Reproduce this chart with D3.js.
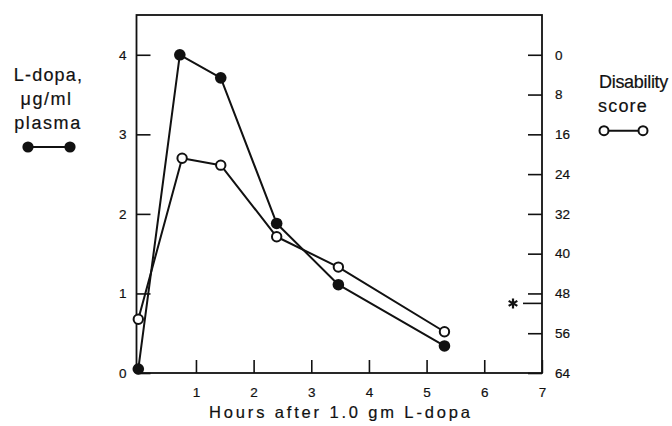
<!DOCTYPE html>
<html><head><meta charset="utf-8">
<script src="https://cdn.jsdelivr.net/npm/d3@7"></script>
<style>
body{margin:0;background:#fff}
svg{display:block}
text{font-family:"Liberation Sans",Arial,Helvetica,sans-serif;fill:#111;stroke:#111;stroke-width:0.2px}
</style>
</head><body>
<svg id="c" width="672" height="426"></svg>
<script>
// ---- data ----
const hoursDopa  = [0, 0.72, 1.43, 2.40, 3.47, 5.31];
const ldopa      = [0.05, 4.0, 3.71, 1.88, 1.11, 0.34];
const hoursScore = [0, 0.76, 1.43, 2.40, 3.47, 5.31];
const disability = [53.2, 20.8, 22.2, 36.6, 42.7, 55.7];
const xTicks     = [1, 2, 3, 4, 5, 6, 7];
const leftTicks  = [0, 1, 2, 3, 4];
const rightTicks = [0, 8, 16, 24, 32, 40, 48, 56, 64];
const starScore  = 50;
const leftLegend  = ["L-dopa,", "\u03bcg/ml", "plasma"];
const rightLegend = ["Disability", "score"];
const xTitle = "Hours after 1.0 gm L-dopa";

// ---- layout ----
const svg = d3.select("#c");
const frame = {left: 136.5, right: 542, top: 15, bottom: 373};
const x  = d3.scaleLinear().domain([0, 7]).range([138.3, 541.9]);
const yL = d3.scaleLinear().domain([0, 4.5]).range([373, 15]);
const yR = d3.scaleLinear().domain([0, 64]).range([yL(4), 373]);
const ink = "#111";

// frame
svg.append("rect")
  .attr("x", frame.left).attr("y", frame.top)
  .attr("width", frame.right - frame.left).attr("height", frame.bottom - frame.top)
  .attr("fill", "none").attr("stroke", ink).attr("stroke-width", 1.8);

function styleAxis(g, size) {
  g.select(".domain").remove();
  g.attr("font-family", null).attr("font-size", null);
  g.selectAll(".tick line").attr("stroke", ink).attr("stroke-width", 1.6);
  g.selectAll(".tick text").attr("font-size", size).attr("fill", ink)
    .style("font-family", '"Liberation Sans",Arial,sans-serif');
}

// left axis
svg.append("g").attr("transform", `translate(${frame.left},0)`)
  .call(d3.axisLeft(yL).tickValues(leftTicks).tickFormat(d3.format("d"))
        .tickSizeInner(-14).tickSizeOuter(0).tickPadding(10))
  .call(g => styleAxis(g, 13.5));

// right axis
svg.append("g").attr("transform", `translate(${frame.right},0)`)
  .call(d3.axisRight(yR).tickValues(rightTicks).tickFormat(d3.format("d"))
        .tickSizeInner(-14).tickSizeOuter(0).tickPadding(13))
  .call(g => styleAxis(g, 13.5));

// bottom axis
svg.append("g").attr("transform", `translate(0,${frame.bottom})`)
  .call(d3.axisBottom(x).tickValues(xTicks).tickFormat(d3.format("d"))
        .tickSizeInner(-13).tickSizeOuter(0).tickPadding(14))
  .call(g => styleAxis(g, 13.5));

// x title
svg.append("text")
  .attr("x", 339.5).attr("y", 418).attr("text-anchor", "middle")
  .attr("font-size", 16.5).attr("textLength", 261).attr("lengthAdjust", "spacing")
  .text(xTitle);

// lines
const dopaPts  = hoursDopa.map((h, i) => [x(h), yL(ldopa[i])]);
const scorePts = hoursScore.map((h, i) => [x(h), yR(disability[i])]);
const line = d3.line();
svg.append("path").attr("d", line(dopaPts))
  .attr("fill", "none").attr("stroke", ink).attr("stroke-width", 2).attr("stroke-linejoin", "round");
svg.append("path").attr("d", line(scorePts))
  .attr("fill", "none").attr("stroke", ink).attr("stroke-width", 2).attr("stroke-linejoin", "round");

svg.append("g").selectAll("circle").data(dopaPts).join("circle")
  .attr("cx", d => d[0]).attr("cy", d => d[1]).attr("r", 5.8).attr("fill", ink);
svg.append("g").selectAll("circle").data(scorePts).join("circle")
  .attr("cx", d => d[0]).attr("cy", d => d[1]).attr("r", 4.7)
  .attr("fill", "#fff").attr("stroke", ink).attr("stroke-width", 2);

// star marker on disability axis
const ys = yR(starScore);
svg.append("line").attr("x1", 523).attr("x2", frame.right).attr("y1", ys).attr("y2", ys)
  .attr("stroke", ink).attr("stroke-width", 1.6);
if (d3.symbolAsterisk) {
  svg.append("path").attr("d", d3.symbol(d3.symbolAsterisk, 70)())
    .attr("transform", `translate(513,${ys})`)
    .attr("fill", "none").attr("stroke", ink).attr("stroke-width", 2.2);
} else {
  svg.append("text").attr("x", 513).attr("y", ys + 12).attr("text-anchor", "middle")
    .attr("font-size", 21).attr("font-weight", "bold").text("*");
}

// left legend
const leftCenters = [48.5, 46.5, 48];
const leftBase = [81, 105, 128.5];
svg.append("g").selectAll("text").data(leftLegend).join("text")
  .attr("x", (d, i) => leftCenters[i]).attr("y", (d, i) => leftBase[i])
  .attr("text-anchor", "middle").attr("font-size", 18)
  .attr("letter-spacing", (d, i) => [1.2, 1.5, 1.6][i])
  .text(d => d);
const lg = svg.append("g");
lg.append("line").attr("x1", 28).attr("x2", 70).attr("y1", 147).attr("y2", 147)
  .attr("stroke", ink).attr("stroke-width", 2);
lg.selectAll("circle").data([28, 70]).join("circle")
  .attr("cx", d => d).attr("cy", 147).attr("r", 5.6).attr("fill", ink);

// right legend
const rightCenters = [633.5, 623];
const rightBase = [88, 111.5];
svg.append("g").selectAll("text").data(rightLegend).join("text")
  .attr("x", (d, i) => rightCenters[i]).attr("y", (d, i) => rightBase[i])
  .attr("text-anchor", "middle").attr("font-size", 18)
  .attr("letter-spacing", (d, i) => [-0.3, 1.2][i])
  .text(d => d);
const rg = svg.append("g");
rg.append("line").attr("x1", 604).attr("x2", 643).attr("y1", 130.7).attr("y2", 130.7)
  .attr("stroke", ink).attr("stroke-width", 2);
rg.selectAll("circle").data([604, 643]).join("circle")
  .attr("cx", d => d).attr("cy", 130.7).attr("r", 4.5)
  .attr("fill", "#fff").attr("stroke", ink).attr("stroke-width", 2);
</script>
</body></html>
